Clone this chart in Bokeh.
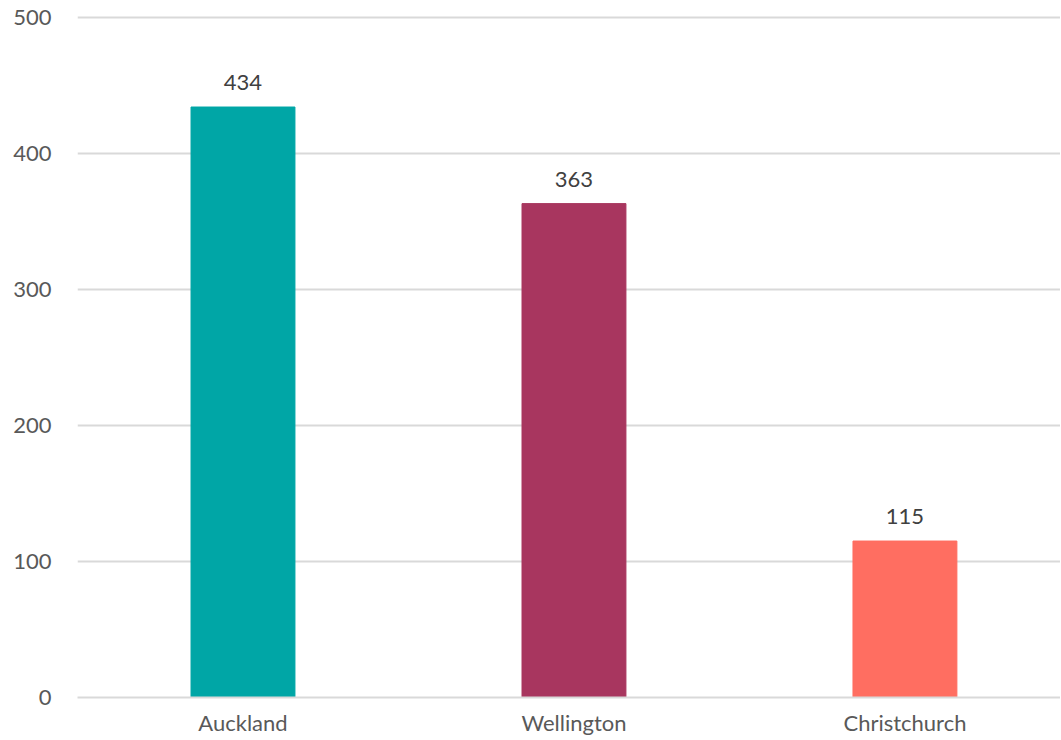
from bokeh.plotting import figure
from bokeh.models import ColumnDataSource, LabelSet, Range1d, FixedTicker
from bokeh.core.properties import value
from bokeh.embed import file_html
from bokeh.resources import INLINE

cities = ["Auckland", "Wellington", "Christchurch"]
counts = [434, 363, 115]
colors = ["#00A6A6", "#A8365F", "#FF6E61"]
y_ticks = [0, 100, 200, 300, 400, 500]

positions = [i + 0.5 for i in range(len(cities))]
source = ColumnDataSource(dict(x=positions, y=counts, color=colors, label=[str(c) for c in counts]))

FONT = "Lato"
FS = "22px"

p = figure(width=1060, height=738, output_backend="svg", toolbar_location=None,
           x_range=Range1d(0, 2.97), y_range=Range1d(0, 502),
           min_border_left=77, min_border_right=0, min_border_top=14, min_border_bottom=28)
p.outline_line_color = None

p.vbar(x="x", top="y", width=0.314, color="color", source=source)

labels = LabelSet(x="x", y="y", text="label", source=source, text_align="center",
                  text_baseline="bottom", y_offset=17, text_font_size=FS,
                  text_color="#404040", text_font=value(FONT))
p.add_layout(labels)

p.xaxis.ticker = FixedTicker(ticks=positions)
p.xaxis.major_label_overrides = {pos: c for pos, c in zip(positions, cities)}
p.xaxis.major_tick_line_color = None
p.xaxis.minor_tick_line_color = None
p.xaxis.axis_line_color = "#d9d9d9"
p.xaxis.axis_line_width = 2
p.xaxis.major_label_text_font_size = FS
p.xaxis.major_label_text_color = "#595959"
p.xaxis.major_label_text_font = FONT
p.xaxis.major_label_standoff = 5

p.yaxis.ticker = FixedTicker(ticks=y_ticks)
p.yaxis.major_tick_line_color = None
p.yaxis.minor_tick_line_color = None
p.yaxis.axis_line_color = None
p.yaxis.major_label_text_font_size = FS
p.yaxis.major_label_text_color = "#595959"
p.yaxis.major_label_text_font = FONT
p.yaxis.major_label_standoff = 20

p.xgrid.grid_line_color = None
p.ygrid.grid_line_color = "#d9d9d9"
p.ygrid.grid_line_width = 2

open("out.html", "w").write(file_html(p, INLINE))
